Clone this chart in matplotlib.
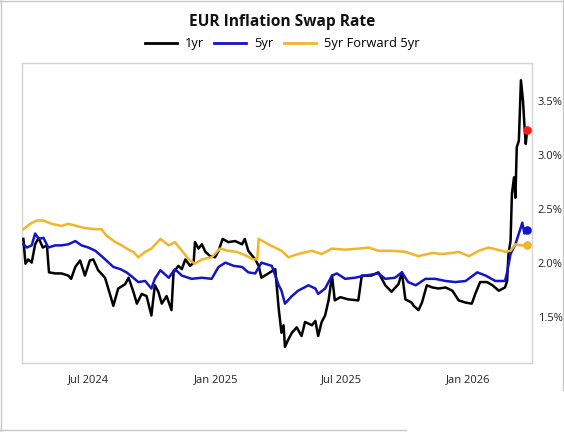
import matplotlib
matplotlib.use("Agg")
import matplotlib.pyplot as plt
import matplotlib.dates as mdates
from matplotlib.lines import Line2D
from matplotlib.ticker import FixedLocator, FuncFormatter
import pandas as pd

plt.rcParams['font.family'] = ['Open Sans', 'DejaVu Sans']

# ---------------- data ----------------
dates_1yr = [
    "2024-03-29", "2024-04-01", "2024-04-05", "2024-04-10", "2024-04-15", "2024-04-20", "2024-04-26", "2024-05-02", "2024-05-05", "2024-05-14",
    "2024-05-23", "2024-06-02", "2024-06-06", "2024-06-12", "2024-06-19", "2024-06-26", "2024-07-03", "2024-07-08", "2024-07-15", "2024-07-25",
    "2024-08-01", "2024-08-06", "2024-08-13", "2024-08-23", "2024-08-28", "2024-09-04", "2024-09-09", "2024-09-16", "2024-09-23", "2024-09-30",
    "2024-10-05", "2024-10-10", "2024-10-15", "2024-10-22", "2024-10-29", "2024-11-01", "2024-11-08", "2024-11-13", "2024-11-18", "2024-11-25",
    "2024-11-30", "2024-12-02", "2024-12-07", "2024-12-12", "2024-12-17", "2024-12-24", "2024-12-31", "2025-01-05", "2025-01-11", "2025-01-19",
    "2025-01-29", "2025-02-08", "2025-02-12", "2025-02-17", "2025-02-27", "2025-03-04", "2025-03-08", "2025-03-18", "2025-03-28", "2025-04-02",
    "2025-04-06", "2025-04-09", "2025-04-11", "2025-04-16", "2025-04-21", "2025-04-28", "2025-05-05", "2025-05-10", "2025-05-20", "2025-05-25",
    "2025-05-29", "2025-06-03", "2025-06-08", "2025-06-13", "2025-06-18", "2025-06-22", "2025-06-30", "2025-07-11", "2025-07-26", "2025-07-31",
    "2025-08-14", "2025-08-24", "2025-09-03", "2025-09-12", "2025-09-22", "2025-09-27", "2025-10-02", "2025-10-11", "2025-10-14", "2025-10-21",
    "2025-10-26", "2025-11-02", "2025-11-10", "2025-11-19", "2025-11-29", "2025-12-09", "2025-12-18", "2025-12-28", "2026-01-06", "2026-01-11",
    "2026-01-18", "2026-01-28", "2026-02-05", "2026-02-14", "2026-02-23", "2026-02-26", "2026-02-28", "2026-03-03", "2026-03-05", "2026-03-08",
    "2026-03-10", "2026-03-12", "2026-03-15", "2026-03-18", "2026-03-21", "2026-03-23", "2026-03-25", "2026-03-27",
]
values_1yr = [
    2.22, 1.99, 2.03, 2.00, 2.17, 2.23, 2.14, 2.16, 1.91, 1.90,
    1.90, 1.88, 1.85, 1.96, 2.02, 1.88, 2.02, 2.03, 1.93, 1.86,
    1.71, 1.60, 1.76, 1.80, 1.86, 1.73, 1.62, 1.71, 1.69, 1.51,
    1.79, 1.73, 1.62, 1.69, 1.56, 1.91, 1.97, 1.94, 2.03, 1.97,
    2.00, 2.19, 2.13, 2.17, 2.10, 2.06, 2.05, 2.11, 2.22, 2.19,
    2.20, 2.17, 2.22, 2.11, 2.03, 1.97, 1.86, 1.90, 1.94, 1.57,
    1.35, 1.42, 1.22, 1.29, 1.35, 1.40, 1.32, 1.45, 1.42, 1.46,
    1.32, 1.45, 1.51, 1.65, 1.88, 1.65, 1.68, 1.66, 1.65, 1.88,
    1.88, 1.91, 1.79, 1.73, 1.80, 1.91, 1.66, 1.63, 1.60, 1.56,
    1.63, 1.79, 1.77, 1.76, 1.77, 1.74, 1.65, 1.63, 1.62, 1.71,
    1.82, 1.82, 1.79, 1.74, 1.77, 1.83, 2.08, 2.20, 2.64, 2.79,
    2.60, 3.07, 3.13, 3.69, 3.50, 3.28, 3.10, 3.23,
]

dates_5yr = [
    "2024-03-29", "2024-04-03", "2024-04-10", "2024-04-15", "2024-04-20", "2024-04-27", "2024-05-04", "2024-05-14", "2024-05-23", "2024-06-02",
    "2024-06-12", "2024-06-21", "2024-07-01", "2024-07-11", "2024-07-20", "2024-07-27", "2024-08-06", "2024-08-16", "2024-08-25", "2024-09-02",
    "2024-09-11", "2024-09-21", "2024-09-30", "2024-10-05", "2024-10-13", "2024-10-25", "2024-11-03", "2024-11-13", "2024-11-27", "2024-12-12",
    "2024-12-26", "2025-01-05", "2025-01-15", "2025-01-27", "2025-02-08", "2025-02-17", "2025-02-27", "2025-03-08", "2025-03-23", "2025-04-02",
    "2025-04-06", "2025-04-11", "2025-04-21", "2025-04-30", "2025-05-15", "2025-05-25", "2025-05-29", "2025-06-08", "2025-06-18", "2025-06-25",
    "2025-07-07", "2025-07-21", "2025-08-05", "2025-08-24", "2025-09-03", "2025-09-17", "2025-09-27", "2025-10-06", "2025-10-17", "2025-10-31",
    "2025-11-14", "2025-11-29", "2025-12-13", "2025-12-28", "2026-01-14", "2026-01-26", "2026-02-09", "2026-02-23", "2026-02-26", "2026-03-03",
    "2026-03-10", "2026-03-15", "2026-03-20", "2026-03-23", "2026-03-27",
]
values_5yr = [
    2.17, 2.14, 2.16, 2.27, 2.22, 2.23, 2.14, 2.16, 2.16, 2.17,
    2.20, 2.16, 2.14, 2.11, 2.06, 2.02, 1.96, 1.94, 1.91, 1.87,
    1.82, 1.83, 1.76, 1.85, 1.93, 1.86, 1.94, 1.88, 1.85, 1.86,
    1.85, 1.96, 2.00, 1.97, 1.96, 1.91, 1.90, 2.00, 1.97, 1.79,
    1.74, 1.62, 1.69, 1.74, 1.79, 1.76, 1.71, 1.76, 1.88, 1.90,
    1.85, 1.86, 1.88, 1.90, 1.85, 1.86, 1.91, 1.82, 1.79, 1.85,
    1.85, 1.83, 1.82, 1.83, 1.91, 1.88, 1.83, 1.83, 1.91, 2.08,
    2.17, 2.27, 2.37, 2.27, 2.30,
]

dates_5y5y = [
    "2024-03-29", "2024-04-08", "2024-04-17", "2024-04-27", "2024-05-09", "2024-05-23", "2024-06-02", "2024-06-14", "2024-06-26", "2024-07-11",
    "2024-07-20", "2024-07-27", "2024-08-09", "2024-08-18", "2024-08-28", "2024-09-04", "2024-09-11", "2024-09-21", "2024-09-30", "2024-10-13",
    "2024-10-25", "2024-11-03", "2024-11-13", "2024-11-23", "2024-12-02", "2024-12-12", "2024-12-26", "2025-01-07", "2025-01-19", "2025-01-31",
    "2025-02-12", "2025-02-24", "2025-03-02", "2025-03-04", "2025-03-18", "2025-04-06", "2025-04-16", "2025-04-30", "2025-05-20", "2025-06-03",
    "2025-06-18", "2025-07-07", "2025-07-26", "2025-08-10", "2025-08-24", "2025-09-12", "2025-10-02", "2025-10-21", "2025-11-10", "2025-11-24",
    "2025-12-09", "2025-12-18", "2026-01-02", "2026-01-16", "2026-01-30", "2026-02-12", "2026-02-24", "2026-03-03", "2026-03-10", "2026-03-17",
    "2026-03-27",
]
values_5y5y = [
    2.31, 2.36, 2.39, 2.39, 2.36, 2.34, 2.36, 2.34, 2.32, 2.31,
    2.31, 2.25, 2.19, 2.16, 2.12, 2.10, 2.05, 2.10, 2.13, 2.22,
    2.16, 2.19, 2.11, 2.03, 1.99, 2.03, 2.05, 2.13, 2.11, 2.10,
    2.07, 2.03, 2.03, 2.22, 2.17, 2.11, 2.05, 2.08, 2.11, 2.08,
    2.13, 2.12, 2.13, 2.14, 2.11, 2.11, 2.10, 2.06, 2.09, 2.08,
    2.09, 2.10, 2.06, 2.11, 2.14, 2.12, 2.10, 2.11, 2.17, 2.16,
    2.16,
]

series_labels = ["1yr", "5yr", "5yr Forward 5yr"]
series_colors = ["#000000", "#1414c8", "#f2b52a"]
end_marker_colors = ["#ff1a1a", "#1414c8", "#f2b52a"]

y_ticks = [1.5, 2.0, 2.5, 3.0, 3.5]
x_ticks = ["2024-07-01", "2025-01-01", "2025-07-01", "2026-01-01"]
x_limits = ["2024-03-27", "2026-04-03"]
title = "EUR Inflation Swap Rate"

# ---------------- figure ----------------
fig = plt.figure(figsize=(5.64, 4.32), dpi=100)
ax = fig.add_axes([22 / 564, 69 / 432, 510 / 564, 300 / 432])

all_series = [
    (dates_1yr, values_1yr),
    (dates_5yr, values_5yr),
    (dates_5y5y, values_5y5y),
]
for (d, v), lab, col, mcol in zip(all_series, series_labels, series_colors, end_marker_colors):
    dt = pd.to_datetime(d)
    ax.plot(dt, v, color=col, lw=1.8, label=lab, solid_joinstyle="round", zorder=3)
    ax.plot(dt[-1:], v[-1:], "o", color=mcol, ms=5.2, zorder=4)

ax.set_xlim(pd.to_datetime(x_limits[0]), pd.to_datetime(x_limits[1]))
ax.set_ylim(1.07, 3.85)

ax.xaxis.set_major_locator(FixedLocator(mdates.date2num(pd.to_datetime(x_ticks))))
ax.xaxis.set_major_formatter(mdates.DateFormatter("%b %Y"))
ax.yaxis.set_major_locator(FixedLocator(y_ticks))
ax.yaxis.set_major_formatter(FuncFormatter(lambda v, p: f"{v:.1f}%"))
ax.yaxis.tick_right()
ax.tick_params(axis="both", length=0, labelsize=8, colors="#222222")
ax.tick_params(axis="x", pad=8)
ax.tick_params(axis="y", pad=4)

for s in ax.spines.values():
    s.set_color("#d4d4d4")
    s.set_linewidth(1.0)

fig.text(0.5, 1 - 22 / 432, title, ha="center", va="center", fontsize=11.2, fontweight="bold", color="#111111")

handles = [Line2D([0], [0], color=c, lw=2) for c in series_colors]
fig.legend(handles, series_labels, loc="center", bbox_to_anchor=(0.5, 1 - 44 / 432), ncol=3, frameon=False,
           fontsize=9.3, handlelength=2.5, columnspacing=0.8, handletextpad=0.6)

# outer screenshot border
border = "#c8c8c8"
fig.add_artist(Line2D([1 / 564, 1 / 564], [0, 1], color=border, lw=1))
fig.add_artist(Line2D([0, 1], [1 - 0.5 / 432, 1 - 0.5 / 432], color=border, lw=1))
fig.add_artist(Line2D([563 / 564, 563 / 564], [1 - 390 / 432, 1], color=border, lw=1))
fig.add_artist(Line2D([0, 406 / 564], [2 / 432, 2 / 432], color=border, lw=1))

fig.savefig("out.png", dpi=100, facecolor="white")
